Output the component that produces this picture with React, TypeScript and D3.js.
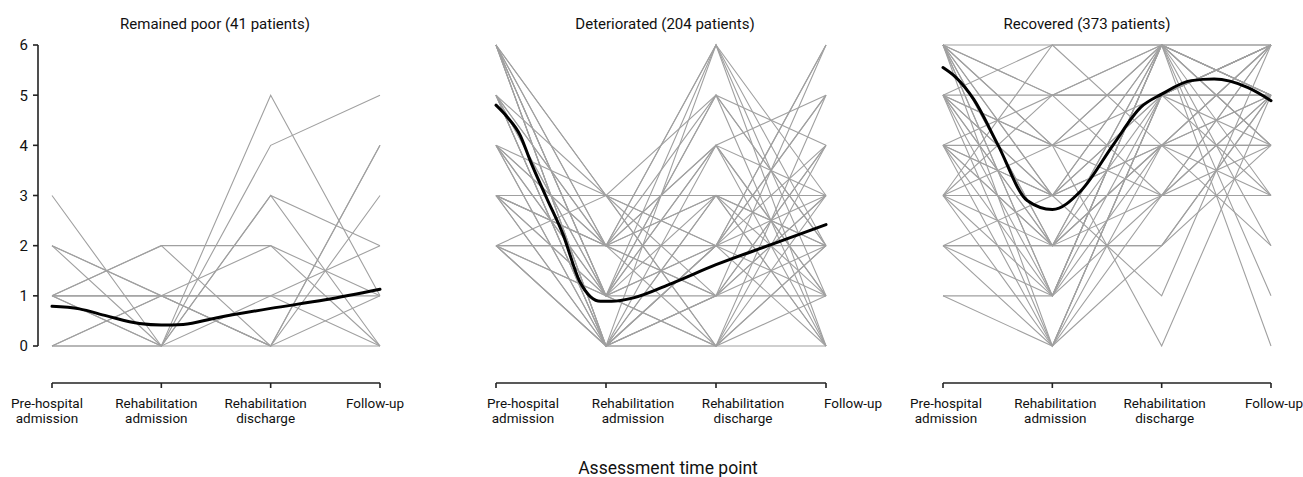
import React from "react";
import * as d3 from "d3";

// ---- data ----
const TIMEPOINTS: string[][] = [
  ["Pre-hospital", "admission"],
  ["Rehabilitation", "admission"],
  ["Rehabilitation", "discharge"],
  ["Follow-up"],
];
const PANEL_TITLES = [
  "Remained poor (41 patients)",
  "Deteriorated (204 patients)",
  "Recovered (373 patients)",
];
const Y_TICKS = [0, 1, 2, 3, 4, 5, 6];
const X_TITLE = "Assessment time point";

// individual patient trajectories: [pre-hospital, rehab admission, rehab discharge, follow-up]
const POOR_PATIENTS: number[][] = [
  [3, 0, 5, 1], [2, 0, 4, 5], [2, 1, 0, 4], [1, 2, 2, 1], [1, 1, 1, 1],
  [1, 0, 3, 2], [0, 1, 2, 0], [0, 0, 0, 0], [1, 0, 1, 2], [0, 0, 3, 0],
  [1, 2, 0, 4], [0, 1, 0, 3], [2, 1, 1, 0], [1, 1, 0, 1],
];
const DETERIORATED_PATIENTS: number[][] = [
  [6, 0, 1, 2], [6, 1, 3, 0], [6, 2, 6, 1], [6, 3, 0, 4], [6, 0, 2, 6],
  [6, 1, 0, 3], [6, 2, 5, 0], [6, 3, 5, 2], [5, 0, 0, 2], [5, 1, 2, 5],
  [5, 2, 4, 1], [5, 0, 3, 2], [5, 3, 1, 6], [5, 2, 6, 3], [4, 0, 6, 2],
  [4, 1, 2, 0], [4, 2, 1, 3], [4, 3, 0, 5], [4, 0, 4, 1], [4, 1, 5, 4],
  [3, 3, 3, 3], [3, 0, 1, 4], [3, 1, 5, 2], [3, 2, 0, 1], [3, 0, 2, 6],
  [3, 1, 4, 0], [3, 2, 3, 2], [2, 2, 2, 2], [2, 0, 1, 3], [2, 1, 0, 2],
  [2, 0, 3, 1], [2, 1, 6, 0], [2, 3, 2, 1], [2, 2, 1, 4], [3, 3, 2, 5],
  [5, 1, 1, 1], [4, 2, 3, 0], [6, 0, 0, 0], [6, 1, 4, 3], [5, 0, 2, 4],
  [3, 2, 4, 5], [2, 0, 2, 3],
];
const RECOVERED_PATIENTS: number[][] = [
  [6, 6, 6, 6], [6, 5, 6, 5], [6, 4, 6, 6], [6, 3, 5, 6], [6, 2, 6, 5],
  [6, 1, 5, 6], [6, 0, 4, 5], [6, 2, 4, 4], [6, 3, 6, 4], [6, 1, 6, 3],
  [5, 5, 5, 5], [5, 3, 5, 6], [5, 2, 6, 4], [5, 1, 4, 6], [5, 0, 5, 5],
  [5, 4, 6, 2], [5, 2, 3, 5], [5, 6, 4, 3], [4, 4, 4, 4], [4, 2, 5, 6],
  [4, 1, 6, 5], [4, 0, 3, 6], [4, 3, 6, 1], [4, 5, 5, 4], [4, 2, 2, 5],
  [3, 3, 3, 3], [3, 1, 6, 5], [3, 0, 5, 6], [3, 2, 4, 6], [3, 6, 6, 5],
  [3, 5, 6, 0], [2, 2, 2, 4], [2, 0, 5, 6], [2, 1, 6, 4], [1, 1, 3, 5],
  [1, 0, 2, 5], [2, 3, 1, 6], [3, 4, 0, 5], [5, 3, 4, 2], [6, 4, 5, 3],
  [4, 3, 4, 6], [5, 4, 3, 6], [2, 2, 4, 5], [6, 5, 3, 4],
];

// smoothed group means: time position (0..3) and score
const POOR_MEAN_T = [0, 0.25, 0.5, 0.8, 1.0, 1.2, 1.5, 2, 2.5, 3];
const POOR_MEAN = [0.79, 0.74, 0.6, 0.45, 0.42, 0.43, 0.56, 0.75, 0.92, 1.13];
const DET_MEAN_T = [0, 0.1, 0.22, 0.31, 0.46, 0.61, 0.76, 0.86, 0.95, 1.05, 1.25, 1.6, 2, 2.5, 3];
const DET_MEAN = [4.8, 4.57, 4.2, 3.7, 2.95, 2.22, 1.29, 0.98, 0.89, 0.89, 0.96, 1.25, 1.62, 2.02, 2.42];
const REC_MEAN_T = [0, 0.12, 0.28, 0.5, 0.77, 1, 1.26, 1.56, 1.81, 2, 2.27, 2.48, 2.79, 3];
const REC_MEAN = [5.55, 5.35, 4.92, 4.02, 2.9, 2.72, 3.09, 4.02, 4.76, 5.02, 5.29, 5.32, 5.15, 4.89];

const PATIENTS = [POOR_PATIENTS, DETERIORATED_PATIENTS, RECOVERED_PATIENTS];
const MEAN_T = [POOR_MEAN_T, DET_MEAN_T, REC_MEAN_T];
const MEANS = [POOR_MEAN, DET_MEAN, REC_MEAN];

// ---- layout ----
const W = 1303;
const H = 477;
const PANEL_X: [number, number][] = [[52, 380], [496, 826], [943, 1271]];
const TITLE_X = [215, 665, 1087];
const LABEL_SHIFT = [-5, 27, 3];
const Y_RANGE: [number, number] = [346, 45];
const X_AXIS_Y = 383;
const FONT = "Roboto, 'Liberation Sans', Arial, sans-serif";

export default function App() {
  const y = d3.scaleLinear().domain([0, 6]).range(Y_RANGE);
  const idx = [0, 1, 2, 3];

  return (
    <svg
      width={W}
      height={H}
      style={{ position: "absolute", left: 0, top: 0, background: "#fff" }}
      fontFamily={FONT}
    >
      {PANEL_TITLES.map((title, p) => {
        const x = d3.scaleLinear().domain([0, 3]).range(PANEL_X[p]);
        const patientLine = d3
          .line<number>()
          .x((_, i) => x(i))
          .y((v) => y(v));
        const meanLine = d3
          .line<number>()
          .x((_, i) => x(MEAN_T[p][i]))
          .y((v) => y(v))
          .curve(d3.curveMonotoneX);
        return (
          <g key={p}>
            <text
              x={TITLE_X[p]}
              y={29}
              textAnchor="middle"
              fontSize={15}
              fill="#111"
            >
              {title}
            </text>
            {PATIENTS[p].map((traj, k) => (
              <path
                key={k}
                d={patientLine(traj) || ""}
                fill="none"
                stroke="#a0a0a0"
                strokeWidth={1.1}
              />
            ))}
            <path
              d={meanLine(MEANS[p]) || ""}
              fill="none"
              stroke="#000"
              strokeWidth={3}
              strokeLinejoin="round"
              strokeLinecap="round"
            />
            {/* bottom axis */}
            <line
              x1={x(0)}
              x2={x(3)}
              y1={X_AXIS_Y}
              y2={X_AXIS_Y}
              stroke="#222"
              strokeWidth={1.6}
            />
            {idx.map((i) => (
              <g key={i}>
                <line
                  x1={x(i)}
                  x2={x(i)}
                  y1={X_AXIS_Y}
                  y2={X_AXIS_Y + 5}
                  stroke="#222"
                  strokeWidth={1.6}
                />
                <text
                  x={x(i) + LABEL_SHIFT[p]}
                  y={408}
                  textAnchor="middle"
                  fontSize={13.5}
                  fill="#111"
                >
                  {TIMEPOINTS[i].map((s, j) => (
                    <tspan key={j} x={x(i) + LABEL_SHIFT[p]} dy={j === 0 ? 0 : 15}>
                      {s}
                    </tspan>
                  ))}
                </text>
              </g>
            ))}
            {p === 0 && (
              <g>
                <line
                  x1={38}
                  x2={38}
                  y1={y(6)}
                  y2={y(0)}
                  stroke="#222"
                  strokeWidth={1.6}
                />
                {Y_TICKS.map((t) => (
                  <g key={t}>
                    <line
                      x1={33}
                      x2={38}
                      y1={y(t)}
                      y2={y(t)}
                      stroke="#222"
                      strokeWidth={1.6}
                    />
                    <text
                      x={28}
                      y={y(t)}
                      dy="0.36em"
                      textAnchor="end"
                      fontSize={15}
                      fill="#111"
                    >
                      {t}
                    </text>
                  </g>
                ))}
              </g>
            )}
          </g>
        );
      })}
      <text x={668} y={474} textAnchor="middle" fontSize={17.5} fill="#111">
        {X_TITLE}
      </text>
    </svg>
  );
}
